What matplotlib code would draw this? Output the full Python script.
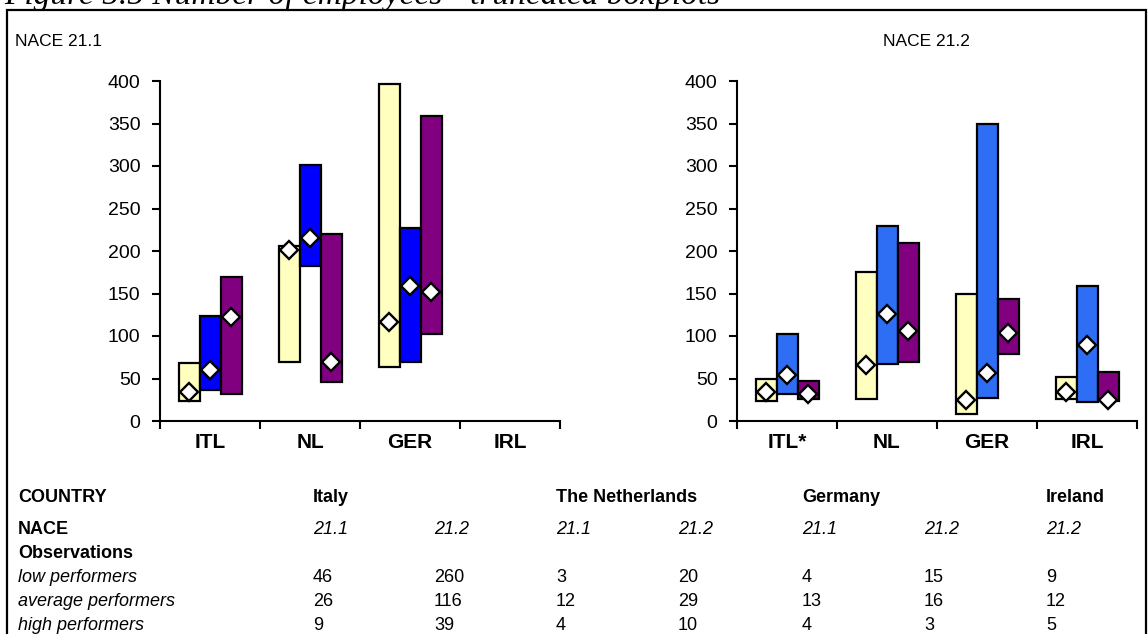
import matplotlib
matplotlib.use('Agg')
import matplotlib.pyplot as plt
from matplotlib.patches import Rectangle
import numpy as np

# NACE 21.1 panel (no Irish data)
cats_211 = ['ITL', 'NL', 'GER', 'IRL']
low_lo_211 = [23, 70, 63]
low_hi_211 = [68, 206, 397]
low_mid_211 = [34, 201, 116]
avg_lo_211 = [37, 182, 70]
avg_hi_211 = [123, 301, 227]
avg_mid_211 = [60, 215, 159]
high_lo_211 = [32, 46, 102]
high_hi_211 = [169, 220, 359]
high_mid_211 = [122, 69, 152]

# NACE 21.2 panel
cats_212 = ['ITL*', 'NL', 'GER', 'IRL']
low_lo_212 = [24, 26, 8, 26]
low_hi_212 = [50, 175, 150, 52]
low_mid_212 = [34, 66, 25, 34]
avg_lo_212 = [32, 67, 27, 22]
avg_hi_212 = [102, 229, 350, 159]
avg_mid_212 = [54, 126, 57, 89]
high_lo_212 = [26, 70, 79, 24]
high_hi_212 = [47, 209, 144, 58]
high_mid_212 = [32, 106, 104, 25]

# observations table
tbl_countries = ['Italy', '', 'The Netherlands', '', 'Germany', '', 'Ireland']
tbl_nace = ['21.1', '21.2', '21.1', '21.2', '21.1', '21.2', '21.2']
obs_low = [46, 260, 3, 20, 4, 15, 9]
obs_avg = [26, 116, 12, 29, 13, 16, 12]
obs_high = [9, 39, 4, 10, 4, 3, 5]

W, H = 1148, 634
fig = plt.figure(figsize=(W / 100, H / 100), dpi=100)
sans = ['Liberation Sans', 'DejaVu Sans']


def px(x, y):
    return x / W, 1 - y / H


def draw_panel(ax, cats, series, colors, width=0.21):
    offs = [-width, 0, width]
    for (lo, hi, mid), col, off in zip(series, colors, offs):
        x = np.arange(len(lo)) + 0.5 + off
        ax.bar(x, np.array(hi) - np.array(lo), bottom=lo, width=width,
               color=col, edgecolor='black', linewidth=1.6, zorder=2)
        ax.plot(x, mid, linestyle='none', marker='D', markersize=9,
                markerfacecolor='white', markeredgecolor='black',
                markeredgewidth=1.7, zorder=3, clip_on=False)
    ax.set_xlim(0, 4)
    ax.set_ylim(0, 400)
    ax.set_yticks(np.arange(0, 401, 50))
    ax.set_xticks(np.arange(0, 5))
    ax.set_xticklabels([])
    ax.set_xticks(np.arange(4) + 0.5, minor=True)
    ax.set_xticklabels(cats, minor=True, fontweight='bold', fontsize=15,
                       family=sans)
    ax.tick_params(axis='x', which='minor', length=0, pad=9)
    ax.tick_params(axis='x', which='major', length=6, width=1.5,
                   direction='out')
    ax.tick_params(axis='y', length=6, width=1.5, direction='out', pad=8,
                   labelsize=14)
    for lab in ax.get_yticklabels():
        lab.set_family(sans)
    for s in ['top', 'right']:
        ax.spines[s].set_visible(False)
    for s in ['left', 'bottom']:
        ax.spines[s].set_linewidth(1.5)
    ax.patch.set_alpha(0)


ax1 = fig.add_axes([160 / W, 213 / H, 400 / W, 340 / H])
draw_panel(ax1, cats_211,
           [(low_lo_211, low_hi_211, low_mid_211),
            (avg_lo_211, avg_hi_211, avg_mid_211),
            (high_lo_211, high_hi_211, high_mid_211)],
           ['#FFFFC0', '#0000FF', '#800080'])

ax2 = fig.add_axes([737 / W, 213 / H, 400 / W, 340 / H])
draw_panel(ax2, cats_212,
           [(low_lo_212, low_hi_212, low_mid_212),
            (avg_lo_212, avg_hi_212, avg_mid_212),
            (high_lo_212, high_hi_212, high_mid_212)],
           ['#FFFFC0', '#2E6EF5', '#800080'])

# outer frame and cut-off caption
fig.add_artist(Rectangle(px(7, 700), (1146 - 7) / W, 690 / H,
                         transform=fig.transFigure, fill=False,
                         edgecolor='black', linewidth=1.6))
fig.text(*px(4, 4), 'Figure 5.5 Number of employees - truncated boxplots',
         family='Liberation Serif', style='italic', fontsize=24,
         va='baseline', ha='left')

fig.text(*px(15, 41), 'NACE 21.1', family=sans, fontsize=12.5, va='center')
fig.text(*px(926, 41), 'NACE 21.2', family=sans, fontsize=12.5,
         va='center', ha='center')

# table
col_x = [313, 434, 556, 678, 802, 924, 1046]
fs = 13
fig.text(*px(18, 497), 'COUNTRY', family=sans, fontweight='bold',
         fontsize=fs, va='center')
fig.text(*px(18, 529), 'NACE', family=sans, fontweight='bold',
         fontsize=fs, va='center')
fig.text(*px(18, 553), 'Observations', family=sans, fontweight='bold',
         fontsize=fs, va='center')
row_labels = ['low performers', 'average performers', 'high performers']
row_y = [578, 602, 626]
for lab, y in zip(row_labels, row_y):
    fig.text(*px(18, y), lab, family=sans, style='italic', fontsize=fs,
             va='center')
for i, x in enumerate(col_x):
    fig.text(*px(x, 497), tbl_countries[i], family=sans, fontweight='bold',
             fontsize=fs, va='center')
    fig.text(*px(x, 529), tbl_nace[i], family=sans, style='italic',
             fontsize=fs, va='center')
    for vals, y in zip([obs_low, obs_avg, obs_high], row_y):
        fig.text(*px(x, y), str(vals[i]), family=sans, fontsize=fs,
                 va='center')

fig.savefig('out.png', dpi=100)
